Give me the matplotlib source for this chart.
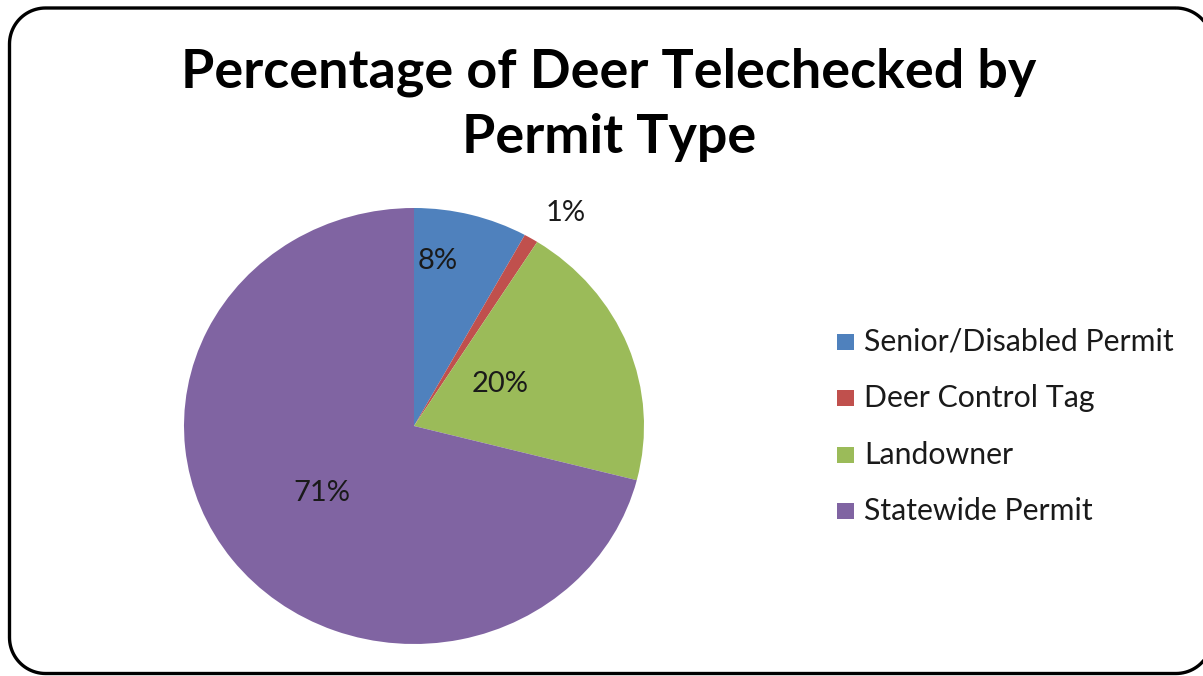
import matplotlib
matplotlib.use("Agg")
import matplotlib.pyplot as plt
import numpy as np
from matplotlib.patches import PathPatch, Rectangle
from matplotlib.path import Path

# Share of deer telechecked, by permit type (percent)
categories = ["Senior/Disabled Permit", "Deer Control Tag", "Landowner", "Statewide Permit"]
values = [8, 1, 20, 71]
colors = ["#4F81BD", "#C0504D", "#9BBB59", "#8064A2"]
title_lines = ["Percentage of Deer Telechecked by", "Permit Type"]

# Label placement in polar terms: (angle in degrees, radius as fraction of pie radius)
label_polar = [(82.2, 0.765), (55.9, 1.18), (27.2, 0.42), (217.4, 0.504)]

W, H = 1203, 676
fig = plt.figure(figsize=(W / 100, H / 100), dpi=100)
fig.patch.set_facecolor("white")

# Background axes in pixel units (y downwards) for the rounded chart frame
bg = fig.add_axes([0, 0, 1, 1])
bg.set_xlim(0, W)
bg.set_ylim(H, 0)
bg.axis("off")


def rounded_rect(x0, y0, x1, y1, rad, n=24):
    pts = []
    corners = [(x1 - rad, y0 + rad, -90, 0), (x1 - rad, y1 - rad, 0, 90),
               (x0 + rad, y1 - rad, 90, 180), (x0 + rad, y0 + rad, 180, 270)]
    for ccx, ccy, a0, a1 in corners:
        t = np.deg2rad(np.linspace(a0, a1, n))
        pts.extend(zip(ccx + rad * np.cos(t), ccy + rad * np.sin(t)))
    pts.append(pts[0])
    return Path(np.array(pts))


bg.add_patch(PathPatch(rounded_rect(9.5, 8.0, 1212, 673.5, 36),
                       facecolor="none", edgecolor="black", linewidth=2.4))

# Title (two centred lines)
for yl, line in zip([72, 137], title_lines):
    fig.text(609 / W, 1 - yl / H, line, ha="center", va="center",
             fontsize=38.8, fontweight="bold", family="Lato")

# Pie axes: center (414, 426), radii 230 px wide x 218 px tall
cx, cy, rx, ry = 414, 426, 230, 218
ax = fig.add_axes([(cx - rx) / W, 1 - (cy + ry) / H, 2 * rx / W, 2 * ry / H])
wedges, _ = ax.pie(values, colors=colors, startangle=90, counterclock=False,
                   radius=1.0, wedgeprops=dict(linewidth=0))
ax.set_xlim(-1, 1)
ax.set_ylim(-1, 1)
ax.set_aspect("auto")
ax.axis("off")

for v, (ang, rf) in zip(values, label_polar):
    a = np.deg2rad(ang)
    ax.text(rf * np.cos(a), rf * np.sin(a), f"{v}%", ha="center", va="center",
            fontsize=21, family="Lato", color="#1a1a1a", clip_on=False)

# Legend
y0, dy = 342, 56.3
for i, (lab, col) in enumerate(zip(categories, colors)):
    y = y0 + i * dy
    bg.add_patch(Rectangle((837, y - 8), 17, 16, facecolor=col, edgecolor="none"))
    fig.text(864 / W, 1 - y / H, lab, ha="left", va="center",
             fontsize=21.8, family="Lato", color="#1a1a1a")

fig.savefig("out.png", dpi=100)
